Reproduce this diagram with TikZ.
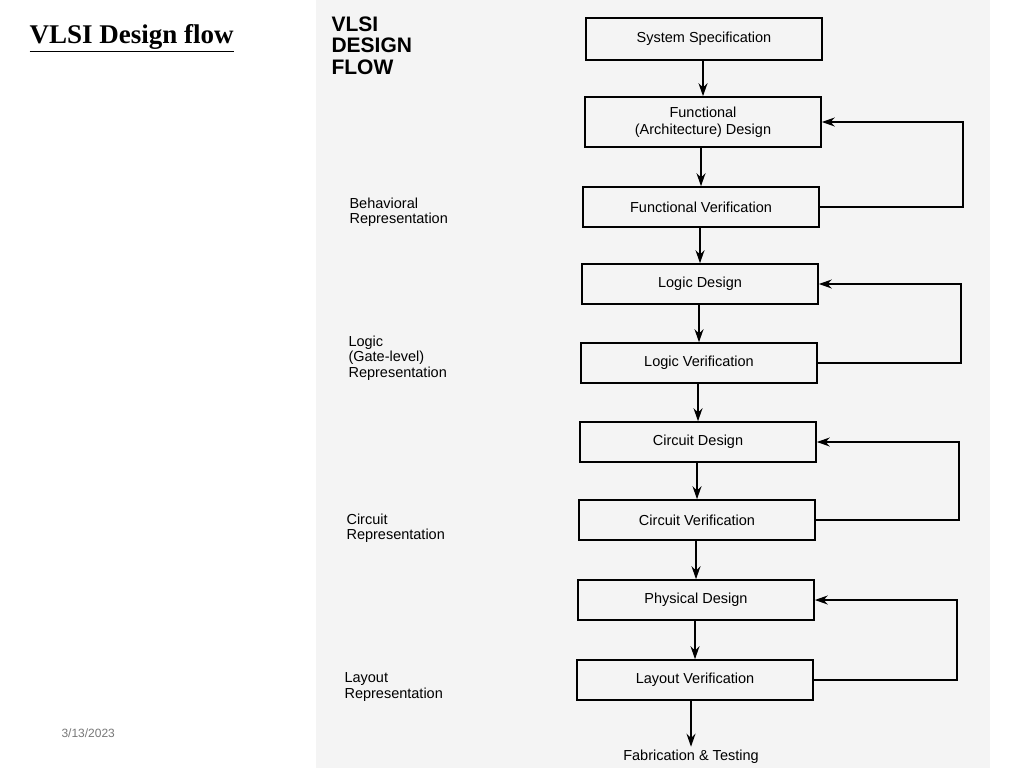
\documentclass[tikz,border=0pt]{standalone}
\usepackage{fontspec}
\setmainfont{Liberation Serif}
\newfontfamily\flowfont{Liberation Sans}
\usetikzlibrary{arrows.meta, positioning, calc}
\definecolor{scangray}{RGB}{244,244,244}
\definecolor{dategray}{RGB}{120,120,120}

\begin{document}
\begin{tikzpicture}[x=1pt, y=-1pt,
    flowbox/.style={draw, line width=1.6pt, minimum width=236pt, minimum height=40pt, font=\flowfont\fontsize{14.5}{17}\selectfont, align=center, inner sep=2pt},
    replabel/.style={anchor=north west, align=left, font=\flowfont\fontsize{14.5}{15.5}\selectfont},
    flowarrow/.style={-{Stealth[length=13pt, width=9pt]}, line width=1.6pt}]
    % Page and scanned area
    \useasboundingbox (0,0) rectangle (1024,768);
    \fill[white] (0,0) rectangle (1024,768);
    \fill[scangray] (316,0) rectangle (990,768);

    % Title and date
    \node[anchor=west, font=\bfseries\fontsize{27}{30}\selectfont] (title) at (26,38) {\underline{VLSI Design flow}};
    \node[anchor=west, font=\flowfont\fontsize{12}{14}\selectfont, text=dategray] (date) at (58,733) {3/13/2023};
    \node[anchor=north west, align=left, font=\flowfont\bfseries\fontsize{21}{21.5}\selectfont] (heading) at (328,13) {VLSI\\DESIGN\\FLOW};

    % Boxes
    \node[flowbox, minimum height=42pt] (spec) at (704,39) {System Specification};
    \node[flowbox, minimum height=50pt] (fdes) at (703,122) {Functional\\(Architecture) Design};
    \node[flowbox] (fver) at (701,207) {Functional Verification};
    \node[flowbox] (ldes) at (700,284) {Logic Design};
    \node[flowbox] (lver) at (699,363) {Logic Verification};
    \node[flowbox] (cdes) at (698,442) {Circuit Design};
    \node[flowbox] (cver) at (697,520) {Circuit Verification};
    \node[flowbox] (pdes) at (696,600) {Physical Design};
    \node[flowbox] (lay) at (695,680) {Layout Verification};
    \node[font=\flowfont\fontsize{14.5}{17}\selectfont] (fab) at (691,757) {Fabrication \& Testing};

    % Downward arrows
    \draw[flowarrow] (spec.south -| fdes) -- (fdes.north);
    \draw[flowarrow] (fdes.south -| fver) -- (fver.north);
    \draw[flowarrow] (fver.south -| ldes) -- (ldes.north);
    \draw[flowarrow] (ldes.south -| lver) -- (lver.north);
    \draw[flowarrow] (lver.south -| cdes) -- (cdes.north);
    \draw[flowarrow] (cdes.south -| cver) -- (cver.north);
    \draw[flowarrow] (cver.south -| pdes) -- (pdes.north);
    \draw[flowarrow] (pdes.south -| lay) -- (lay.north);
    \draw[flowarrow] (lay.south -| fab) -- (fab.north);

    % Feedback loops
    \draw[flowarrow] (fver.east) -- ++(143,0) |- (fdes.east);
    \draw[flowarrow] (lver.east) -- ++(143,0) |- (ldes.east);
    \draw[flowarrow] (cver.east) -- ++(143,0) |- (cdes.east);
    \draw[flowarrow] (lay.east) -- ++(143,0) |- (pdes.east);

    % Representation labels
    \node[replabel] (behav) at (346,194) {Behavioral\\Representation};
    \node[replabel] (logic) at (345,332) {Logic\\(Gate-level)\\Representation};
    \node[replabel] (circ) at (343,510) {Circuit\\Representation};
    \node[replabel] (layrep) at (341,669) {Layout\\Representation};
\end{tikzpicture}
\end{document}
